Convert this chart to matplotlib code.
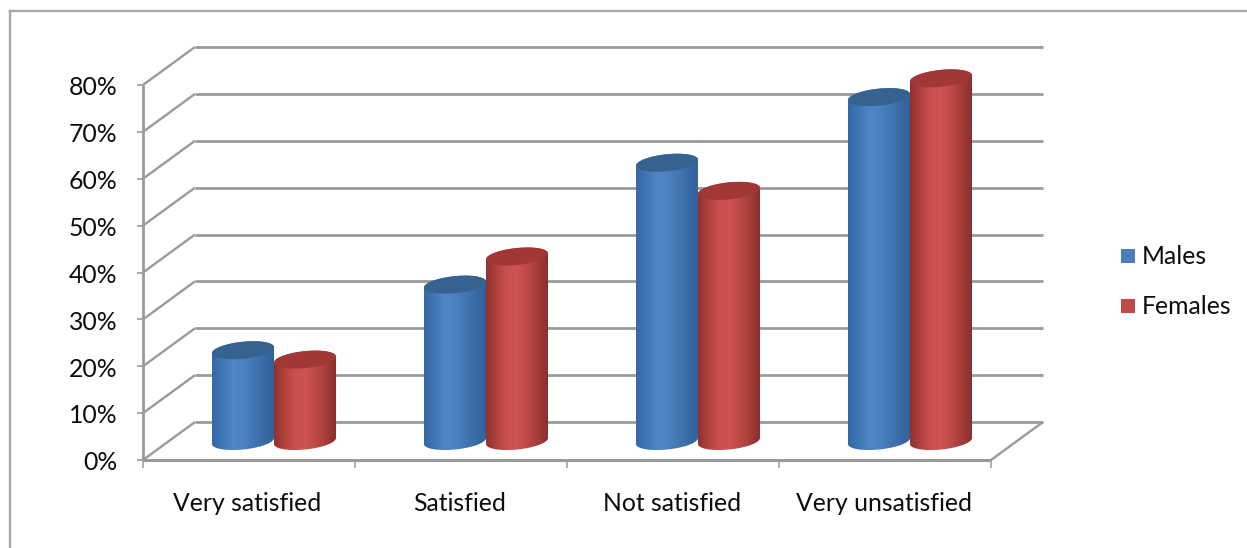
import numpy as np
import matplotlib
matplotlib.use("Agg")
import matplotlib.pyplot as plt
from matplotlib.colors import LinearSegmentedColormap
from matplotlib.patches import Polygon, Rectangle

categories = ["Very satisfied", "Satisfied", "Not satisfied", "Very unsatisfied"]
males = [20, 34, 60, 74]
females = [18, 40, 54, 78]
y_ticks = [0, 10, 20, 30, 40, 50, 60, 70, 80]

W, H = 1247, 548
FONT = "Lato"
TEXT = "#0d0d0d"
GRID = "#9a9a9a"

# Front plane of the 3D box, in pixels from the top-left corner
X0, X1, Y0, Y80 = 143, 991, 460, 85

fig = plt.figure(figsize=(W / 100, H / 100), dpi=100, facecolor="white")
ax = fig.add_axes([X0 / W, 1 - Y0 / H, (X1 - X0) / W, (Y0 - Y80) / H])
ax.set_xlim(0, 4)
ax.set_ylim(0, 80)
ax.axis("off")

PX_X = 4 / (X1 - X0)
PX_Y = 80 / (Y0 - Y80)
DEPTH_X = 52 * PX_X
DEPTH_Y = 38 * PX_Y
LW = 2.0


def line(xs, ys, lw=LW, z=1):
    ax.plot(xs, ys, color=GRID, lw=lw, solid_capstyle="butt", clip_on=False, zorder=z)


# Walls and floor of the box
for v in y_ticks:
    line([0, DEPTH_X], [v, v + DEPTH_Y], lw=1.7)
    line([DEPTH_X, 4 + DEPTH_X], [v + DEPTH_Y, v + DEPTH_Y])
    line([-6 * PX_X, 0], [v, v], lw=1.2)
line([0, 0], [0, 80], lw=2.0)
line([0, 4], [0, 0], lw=2.2)
line([4, 4 + DEPTH_X], [0, DEPTH_Y], lw=1.7)
for i in range(5):
    line([i, i], [0, -8 * PX_Y], lw=1.1)

# Chart frame around the plot
frame = "#a8a8a8"
fig.add_artist(plt.Line2D([10 / W, 10 / W], [0, 1 - 11 / H], color=frame, lw=1.7))
fig.add_artist(plt.Line2D([10 / W, 1], [1 - 11 / H, 1 - 11 / H], color=frame, lw=1.7))

blue_map = LinearSegmentedColormap.from_list(
    "blue", ["#356aa6", "#3f76b6", "#4f86c6", "#4c82c2", "#4277b4", "#3a6ba6", "#32609a"])
red_map = LinearSegmentedColormap.from_list(
    "red", ["#8f3330", "#b3413e", "#c9504d", "#cc5350", "#c04a47", "#a53c39", "#8a302e"])
BLUE_TOP, RED_TOP = "#35628f", "#a13836"

HALF = 31 * PX_X
MINOR = 8.5 * PX_Y
TILT = 3.0 * PX_Y
CAP_DROP = 3 * PX_Y  # the cap sits slightly below the nominal height in this projection
gradient = np.linspace(0, 1, 128).reshape(1, -1)


def ellipse(xc, yc, t):
    return xc + HALF * np.cos(t), yc + MINOR * np.sin(t) + TILT * np.cos(t)


def cylinder(xc, value, cmap, top_color, z):
    base = 0.5 * DEPTH_Y
    ya = base
    yb = base + value - CAP_DROP
    t_low = np.linspace(np.pi, 2 * np.pi, 60)
    t_up = np.linspace(0, np.pi, 60)
    lx, ly = ellipse(xc, ya, t_low)
    ux, uy = ellipse(xc, yb, t_up)
    outline = np.column_stack([np.r_[lx, ux], np.r_[ly, uy]])
    body = Polygon(outline, closed=True, transform=ax.transData, fc="none", ec="none")
    ax.add_patch(body)
    img = ax.imshow(gradient, cmap=cmap, aspect="auto", zorder=z, interpolation="bilinear",
                    extent=(xc - HALF, xc + HALF, ya - 3, yb + 3))
    # The tallest cylinders rise above the front plane, so only the outline clips them
    img.set_clip_box(fig.bbox)
    img.set_clip_path(body)
    t = np.linspace(0, 2 * np.pi, 120)
    ex, ey = ellipse(xc, yb, t)
    ax.fill(ex, ey, color=top_color, lw=0, zorder=z + 0.1, clip_on=False)


for i, (m, f) in enumerate(zip(males, females)):
    centre = i + 0.5 + 25 * PX_X
    cylinder(centre - HALF, m, blue_map, BLUE_TOP, 3 + i)
    cylinder(centre + HALF, f, red_map, RED_TOP, 3.5 + i)
ax.set_xlim(0, 4)
ax.set_ylim(0, 80)

# Axis labels
for v in y_ticks:
    ax.annotate(f"{v}%", (0, v), xytext=(-18.5, -2), textcoords="offset points",
                ha="right", va="center", fontsize=17.8, family=FONT, color=TEXT,
                annotation_clip=False)
for i, c in enumerate(categories):
    ax.annotate(c, (i + 0.5, 0), xytext=(-1, -31), textcoords="offset points",
                ha="center", va="center", fontsize=17.8, family=FONT, color=TEXT,
                annotation_clip=False)

# Legend entries
for label, colour, ypx in [("Males", "#4a7ebb", 256), ("Females", "#be4b48", 306)]:
    fig.add_artist(Rectangle((1121 / W, 1 - (ypx + 7) / H), 14 / W, 14 / H,
                             transform=fig.transFigure, fc=colour, ec="none"))
    fig.text(1142 / W, 1 - ypx / H, label, ha="left", va="center",
             fontsize=17.8, family=FONT, color=TEXT)

fig.savefig("out.png", dpi=100)
